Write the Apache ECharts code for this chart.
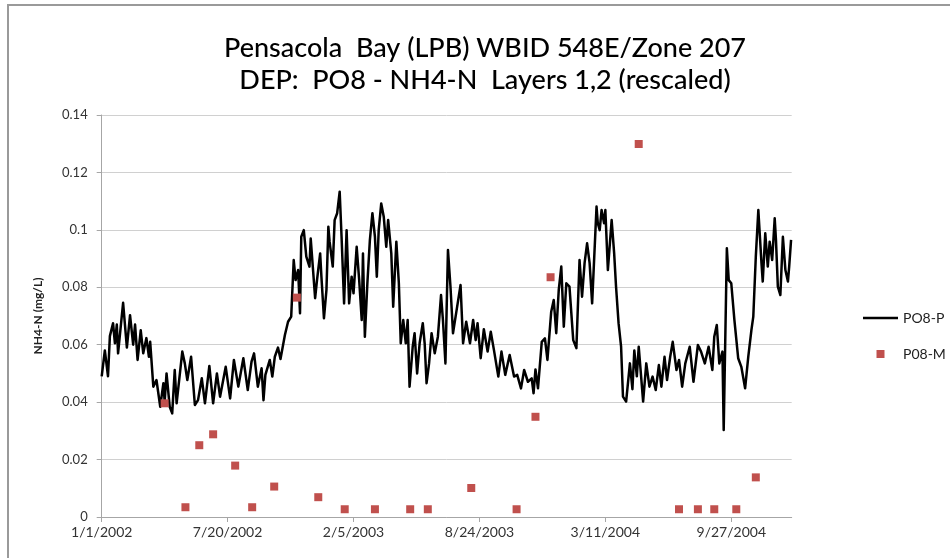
<!DOCTYPE html>
<html>
<head>
<meta charset="utf-8">
<script src="https://cdn.jsdelivr.net/npm/echarts@6/dist/echarts.min.js"></script>
<style>
html,body{margin:0;padding:0;background:#fff;}
#chart{width:950px;height:558px;}
</style>
</head>
<body>
<div id="chart"></div>
<script>
// Dates are stored as day offsets from 1/1/2002
const baseDate = Date.UTC(2002, 0, 1);
const titleLines = ['Pensacola  Bay (LPB) WBID 548E/Zone 207', 'DEP:  PO8 - NH4-N  Layers 1,2 (rescaled)'];
const yAxisName = 'NH4-N (mg/L)';
const seriesNames = ['PO8-P', 'P08-M'];

// PO8-P (model, line)
const pDays = [0,5,10,13,18,21,24,26,34,40,45,50,53,57,62,66,71,75,77,82,87,93,98,100,103,108,112,116,119,128,132,136,142,148,153,159,164,171,177,183,188,197,204,210,217,225,232,238,242,248,254,257,260,267,271,275,280,284,291,296,301,
305,308,312,315,317,321,325,330,332,339,342,347,349,353,357,360,362,367,370,374,378,381,385,389,393,397,400,405,409,413,415,418,422,426,430,434,437,440,444,448,452,455,460,463,468,472,475,479,483,486,489,494,497,501,505,510,513,516,520,524,529,534,539,542,546,550,554,558,563,570,574,579,
585,590,594,597,602,607,613,618,623,630,635,641,648,655,660,666,671,677,683,686,689,693,699,704,708,714,718,722,726,730,734,738,743,749,754,759,763,767,771,775,779,786,788,791,794,798,800,804,807,810,814,817,821,825,828,833,839,843,846,850,853,860,865,
870,875,880,885,889,894,898,903,907,913,917,922,927,934,940,947,952,958,964,970,973,977,981,986,988,993,996,1000,1005,1011,1016,1022,1027,1032,1035,1039,1043,1048,1050,1054,1058,1061,1065,1069,1071,1074,1078,1082,1086,1090,1092,1095];
const pValues = [0.049,0.058,0.049,0.063,0.0675,0.0605,0.067,0.057,0.0746,0.059,0.0703,0.060,0.067,0.0547,0.065,0.057,0.0623,0.0558,0.061,0.0454,0.0477,0.0384,0.0466,0.0402,0.050,0.0384,0.0361,0.0512,0.0396,0.0576,0.0535,0.0477,0.0558,0.039,0.0407,0.0483,0.0396,0.0526,0.0396,0.050,0.0419,0.0523,0.0413,0.0547,0.0454,0.0553,0.0442,0.0541,0.057,0.0454,0.0518,0.0407,0.0495,0.0547,0.0489,0.0558,0.059,0.055,0.0634,0.068,0.0698,
0.0895,0.0825,0.086,0.071,0.0976,0.0999,0.0907,0.0872,0.097,0.0762,0.0825,0.0918,0.0837,0.0692,0.0791,0.1011,0.0959,0.0872,0.1034,0.1058,0.1133,0.0976,0.0744,0.0999,0.0744,0.0837,0.0779,0.0941,0.0825,0.0686,0.0918,0.0628,0.0814,0.0965,0.1058,0.0976,0.0837,0.0999,0.1092,0.1046,0.0941,0.1034,0.0918,0.0732,0.0959,0.0814,0.0605,0.0686,0.0605,0.0686,0.0454,0.0593,0.064,0.050,0.0605,0.0675,0.0605,0.0466,0.0535,0.064,0.057,0.0628,0.0773,0.0686,0.0535,0.093,0.0802,0.064,0.071,0.0808,0.0605,0.068,
0.0605,0.0686,0.0616,0.0675,0.0553,0.0654,0.0576,0.0645,0.0582,0.0489,0.0576,0.0495,0.0564,0.0489,0.0495,0.0448,0.0512,0.0471,0.0483,0.0431,0.0514,0.0448,0.061,0.0622,0.0547,0.0715,0.0756,0.064,0.0791,0.0872,0.0663,0.0814,0.0802,0.0616,0.0588,0.0895,0.0767,0.0884,0.0953,0.0884,0.0744,0.1081,0.1023,0.0999,0.1069,0.1023,0.1069,0.086,0.086,0.1034,0.0918,0.0802,0.0675,0.0593,0.0419,0.0402,0.0535,0.0445,0.058,0.049,0.0593,0.0402,0.0535,
0.0454,0.0489,0.0442,0.0529,0.0454,0.0558,0.0477,0.0558,0.061,0.0512,0.0547,0.0454,0.0535,0.0593,0.0471,0.0599,0.0576,0.0535,0.0593,0.0512,0.0628,0.0669,0.0535,0.0576,0.0303,0.0936,0.0825,0.0814,0.0686,0.0553,0.0523,0.0448,0.0558,0.0651,0.0698,0.0907,0.1069,0.0884,0.082,0.0988,0.0872,0.0959,0.0895,0.104,0.0965,0.0802,0.0773,0.0976,0.086,0.082,0.0872,0.0965];

// P08-M (measured, squares)
const mDays = [100,133,155,177,212,239,274,310,344,386,434,490,518,587,659,689,713,853,917,947,973,1008,1039];
const mValues = [0.0396,0.0034,0.025,0.0288,0.0179,0.0034,0.0106,0.0764,0.0069,0.0027,0.0027,0.0027,0.0027,0.0101,0.0027,0.0349,0.0835,0.1299,0.0027,0.0027,0.0027,0.0027,0.0138];

// axis settings
const xMin = 0, xMax = 1096, xInterval = 200;
const yMin = 0, yMax = 0.14, yInterval = 0.02;

function dayLabel(d) {
  const dt = new Date(baseDate + d * 86400000);
  return (dt.getUTCMonth() + 1) + '/' + dt.getUTCDate() + '/' + dt.getUTCFullYear();
}

const font = 'Lato, "Open Sans", sans-serif';
const chart = echarts.init(document.getElementById('chart'));
chart.setOption({
  animation: false,
  backgroundColor: '#fff',
  graphic: [{
    type: 'rect', left: 7, top: 4, z: -1,
    shape: { width: 1000, height: 600 },
    style: { fill: '#fff', stroke: '#9a9a9a', lineWidth: 2 }
  }],
  title: {
    text: titleLines.join('\n'),
    left: 480, top: 27, textAlign: 'center',
    textStyle: { fontFamily: font, fontSize: 27, fontWeight: 500, color: '#000', lineHeight: 32 }
  },
  legend: {
    orient: 'vertical', left: 858, top: 306,
    itemWidth: 35, itemHeight: 8, itemGap: 22,
    symbolKeepAspect: true,
    textStyle: { fontFamily: font, fontSize: 14, color: '#222' },
    data: [
      { name: seriesNames[0], icon: 'path://M0,0h35v2.4h-35z' },
      { name: seriesNames[1], icon: 'path://M0,0h10v10h-10z' }
    ]
  },
  grid: { left: 101.7, right: 158.3, top: 115, bottom: 41, containLabel: false },
  xAxis: {
    type: 'value', min: xMin, max: xMax, interval: xInterval,
    splitLine: { show: false },
    axisLine: { lineStyle: { color: '#a6a6a6', width: 1 } },
    axisTick: { show: true, length: 5, lineStyle: { color: '#a6a6a6' } },
    axisLabel: { formatter: dayLabel, showMaxLabel: false, margin: 8, fontFamily: font, fontSize: 14, color: '#333' }
  },
  yAxis: {
    type: 'value', min: yMin, max: yMax, interval: yInterval,
    name: yAxisName, nameLocation: 'middle', nameGap: 58, nameRotate: 90,
    nameTextStyle: { fontFamily: font, fontSize: 12, fontWeight: 'bold', color: '#222' },
    axisLine: { show: true, lineStyle: { color: '#a6a6a6', width: 1 } },
    axisTick: { show: true, length: 5, lineStyle: { color: '#a6a6a6' } },
    splitLine: { show: true, lineStyle: { color: '#d0d0d0', width: 1 } },
    axisLabel: { margin: 14, fontFamily: font, fontSize: 13, color: '#333',
      formatter: v => String(Math.round(v * 100) / 100) }
  },
  series: [
    {
      name: seriesNames[0], type: 'line',
      data: pDays.map((d, i) => [d, pValues[i]]),
      symbol: 'none', showSymbol: false,
      lineStyle: { color: '#000', width: 2.5, join: 'round' }, itemStyle: { color: '#000' },
      z: 2
    },
    {
      name: seriesNames[1], type: 'scatter',
      data: mDays.map((d, i) => [d, mValues[i]]),
      symbol: 'rect', symbolSize: 8,
      itemStyle: { color: '#c0504d', opacity: 1 },
      z: 3
    }
  ]
});
</script>
</body>
</html>
